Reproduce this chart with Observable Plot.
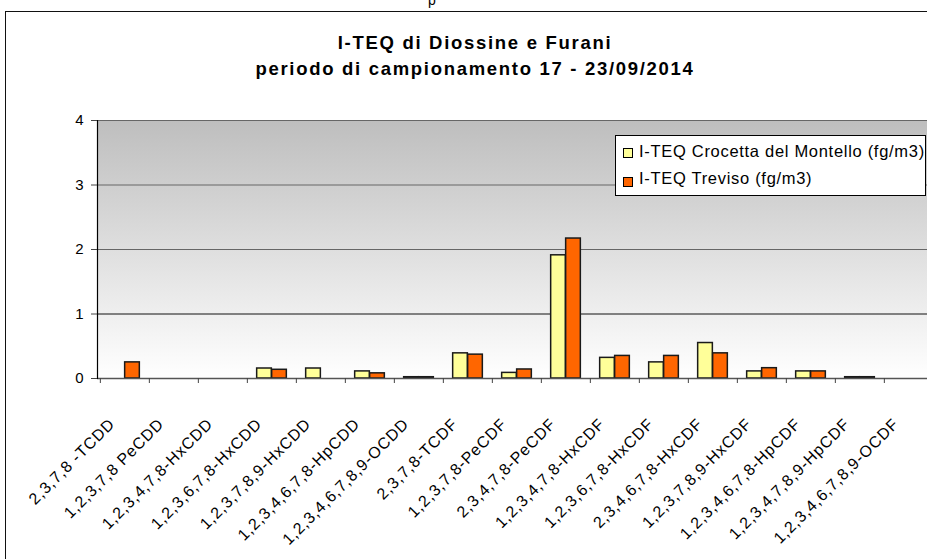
<!DOCTYPE html>
<html>
<head>
<meta charset="utf-8">
<script src="https://cdn.jsdelivr.net/npm/d3@7"></script>
<script src="https://cdn.jsdelivr.net/npm/@observablehq/plot@0.6"></script>
<style>
html, body { margin: 0; padding: 0; background: #fff; width: 927px; height: 559px; overflow: hidden; }
#page { position: relative; width: 927px; height: 559px; overflow: hidden; font-family: "Liberation Sans", Arial, sans-serif; color: #000; }
#frame { position: absolute; left: 5px; top: 11px; width: 1000px; height: 700px; border: 1.5px solid #111; box-sizing: border-box; }
#frag { position: absolute; left: 428px; top: -7px; font-size: 14px; line-height: 14px; }
#title { position: absolute; left: 0; width: 950px; top: 29.6px; text-align: center; font-weight: bold; font-size: 18.5px; line-height: 26px; letter-spacing: 1.7px; }
#chart { position: absolute; left: 0; top: 0; width: 1000px; }
#chart svg { max-width: none !important; }
#legend { position: absolute; left: 615px; top: 135px; width: 311px; height: 61px; border: 1px solid #000; background: #fff; box-sizing: border-box; }
.lg-sw { position: absolute; left: 7px; width: 10px; height: 10px; border: 1px solid #000; box-sizing: border-box; }
.lg-tx { position: absolute; left: 23px; font-size: 16.5px; line-height: 20px; letter-spacing: 0.7px; white-space: nowrap; }
</style>
</head>
<body>
<div id="page">
  <div id="frag">p</div>
  <div id="frame"></div>
  <div id="chart"></div>
  <div id="title">I-TEQ di Diossine e Furani<br>periodo di campionamento 17 - 23/09/2014</div>
  <div id="legend"></div>
</div>
<script>
const categories = [
  "2,3,7,8 -TCDD",
  "1,2,3,7,8 PeCDD",
  "1,2,3,4,7,8-HxCDD",
  "1,2,3,6,7,8-HxCDD",
  "1,2,3,7,8,9-HxCDD",
  "1,2,3,4,6,7,8-HpCDD",
  "1,2,3,4,6,7,8,9-OCDD",
  "2,3,7,8-TCDF",
  "1,2,3,7,8-PeCDF",
  "2,3,4,7,8-PeCDF",
  "1,2,3,4,7,8-HxCDF",
  "1,2,3,6,7,8-HxCDF",
  "2,3,4,6,7,8-HxCDF",
  "1,2,3,7,8,9-HxCDF",
  "1,2,3,4,6,7,8-HpCDF",
  "1,2,3,4,7,8,9-HpCDF",
  "1,2,3,4,6,7,8,9-OCDF"
];
const seriesNames = ["I-TEQ Crocetta del Montello (fg/m3)", "I-TEQ Treviso (fg/m3)"];
const seriesColors = ["#FFFF99", "#FF6600"];
const crocetta = [0, 0, 0, 0.155, 0.155, 0.11, 0.02, 0.39, 0.087, 1.91, 0.32, 0.25, 0.55, 0.11, 0.11, 0.02, 0];
const treviso  = [0.25, 0, 0, 0.135, 0, 0.08, 0.02, 0.37, 0.14, 2.17, 0.35, 0.35, 0.39, 0.16, 0.11, 0.02, 0];
const yTicks = [0, 1, 2, 3, 4];

const rowsA = categories.map((c, i) => ({cat: c, value: crocetta[i]})).filter(d => d.value > 0);
const rowsB = categories.map((c, i) => ({cat: c, value: treviso[i]})).filter(d => d.value > 0);

const W = 1000, H = 559, ML = 97, MR = 65;
const bw = (W - ML - MR) / categories.length;

const svg = Plot.plot({
  width: W, height: H,
  marginLeft: ML, marginRight: MR, marginTop: 120, marginBottom: 181,
  style: {background: "transparent", fontFamily: "'Liberation Sans', Arial, sans-serif", fontSize: "15px", color: "#000", overflow: "visible", maxWidth: "none"},
  x: {domain: categories, padding: 0, axis: null},
  y: {domain: [0, 4], axis: null},
  marks: [
    Plot.frame({fill: "url(#bgGrad)", stroke: null}),
    Plot.gridY([2, 3, 4], {stroke: "#666", strokeOpacity: 1, strokeWidth: 1.2}),
    Plot.gridY([1], {stroke: "#111", strokeOpacity: 1, strokeWidth: 1}),
    Plot.barY(rowsA, {x: "cat", y: "value", fill: seriesColors[0], stroke: "#1a1a1a", strokeWidth: 1.5, insetLeft: bw * 0.196, insetRight: bw * 0.5}),
    Plot.barY(rowsB, {x: "cat", y: "value", fill: seriesColors[1], stroke: "#1a1a1a", strokeWidth: 1.5, insetLeft: bw * 0.5, insetRight: bw * 0.196}),
    Plot.ruleY([0], {stroke: "#555", strokeWidth: 1.5}),
    Plot.frame({anchor: "left", stroke: "#000", strokeWidth: 1.2}),
    Plot.axisY({ticks: yTicks, tickSize: 6, tickPadding: 8, tickFormat: d3.format("d"), fontSize: 15, stroke: "#444", label: null}),
    Plot.axisX({tickSize: 5, tickFormat: () => "", dx: -bw / 2, stroke: "#444", label: null}),
    Plot.axisX({tickSize: 0, tickPadding: 43, tickRotate: -45, dx: -13, fontSize: 16, label: null})
  ]
});

const defs = d3.select(svg).insert("defs", ":first-child");
const grad = defs.append("linearGradient").attr("id", "bgGrad").attr("x1", 0).attr("y1", 0).attr("x2", 0).attr("y2", 1);
grad.append("stop").attr("offset", 0).attr("stop-color", "#bebebe");
grad.append("stop").attr("offset", 1).attr("stop-color", "#ffffff");
d3.select(svg).selectAll('g[aria-label="x-axis tick label"] text').style("letter-spacing", "0.8px");
document.getElementById("chart").appendChild(svg);

const legend = d3.select("#legend");
seriesNames.forEach((name, i) => {
  legend.append("div").attr("class", "lg-sw").style("top", (12 + i * 28.5) + "px").style("background", seriesColors[i]);
  legend.append("div").attr("class", "lg-tx").style("top", (5.3 + i * 26.5) + "px").text(name);
});
</script>
</body>
</html>
